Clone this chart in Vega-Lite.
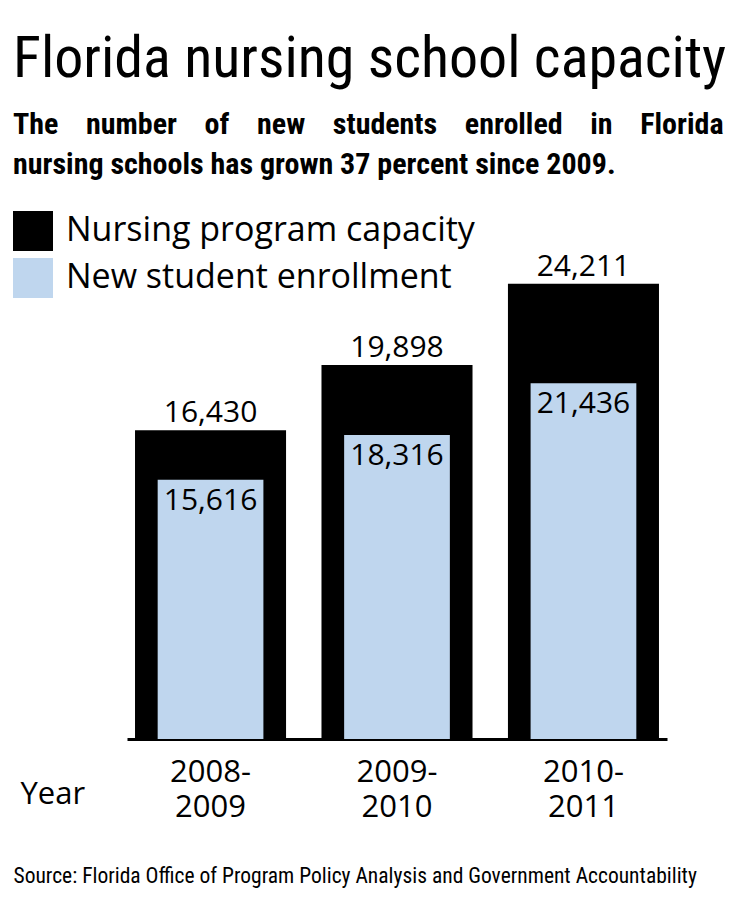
{
  "$schema": "https://vega.github.io/schema/vega-lite/v6.json",
  "autosize": "none",
  "width": 540,
  "height": 479,
  "padding": {"left": 127, "top": 260, "right": 89, "bottom": 161},
  "background": "white",
  "title": {
    "text": "Florida nursing school capacity",
    "subtitle": ["The\u00a0\u00a0\u00a0\u00a0number\u00a0\u00a0\u00a0\u00a0of\u00a0\u00a0\u00a0\u00a0new\u00a0\u00a0\u00a0\u00a0students\u00a0\u00a0\u00a0\u00a0enrolled\u00a0\u00a0\u00a0\u00a0in\u00a0\u00a0\u00a0\u00a0Florida", "nursing schools has grown 37 percent since 2009."],
    "anchor": "start",
    "frame": "group",
    "orient": "top",
    "dx": -114,
    "offset": 31,
    "font": "Roboto Condensed, Roboto",
    "fontSize": 58,
    "fontWeight": "normal",
    "color": "black",
    "subtitleFont": "Roboto Condensed, Roboto",
    "subtitleFontSize": 30,
    "subtitleFontWeight": "bold",
    "subtitleColor": "black",
    "subtitleLineHeight": 40,
    "subtitlePadding": 21
  },
  "data": {
    "values": [
      {"year": "2008-2009", "capacity": 16430, "enrollment": 15616},
      {"year": "2009-2010", "capacity": 19898, "enrollment": 18316},
      {"year": "2010-2011", "capacity": 24211, "enrollment": 21436}
    ]
  },
  "encoding": {
    "x": {
      "field": "year",
      "type": "nominal",
      "sort": null,
      "scale": {"paddingInner": 0.19, "paddingOuter": 0.043},
      "axis": {
        "title": "Year",
        "titleFont": "Open Sans",
        "titleFontSize": 31,
        "titleFontWeight": "normal",
        "titleColor": "black",
        "titleX": -107,
        "titleY": 64,
        "titleAlign": "left",
        "titleBaseline": "alphabetic",
        "titleAngle": 0,
        "domain": true,
        "domainColor": "black",
        "domainWidth": 3,
        "ticks": false,
        "grid": false,
        "labelAngle": 0,
        "labelFont": "Open Sans",
        "labelFontSize": 31,
        "labelColor": "black",
        "labelPadding": 18,
        "labelLineHeight": 35,
        "labelExpr": "[slice(datum.value, 0, 5), slice(datum.value, 5)]"
      }
    }
  },
  "layer": [
    {
      "layer": [
        {
          "mark": {"type": "bar", "width": {"band": 1}},
          "encoding": {
            "y": {
              "field": "capacity",
              "type": "quantitative",
              "scale": {"domain": [0, 25480], "nice": false},
              "axis": {
                "orient": "left",
                "domain": false,
                "ticks": false,
                "labels": false,
                "grid": false,
                "title": "Source: Florida Office of Program Policy Analysis and Government Accountability",
                "titleAngle": 0,
                "titleX": -114,
                "titleY": 622,
                "titleAlign": "left",
                "titleBaseline": "alphabetic",
                "titleFont": "Roboto Condensed, Roboto",
                "titleFontSize": 21.5,
                "titleFontWeight": "normal",
                "titleColor": "black",
                "titleLimit": 740
              }
            },
            "color": {
              "datum": "Nursing program capacity",
              "scale": {
                "domain": ["Nursing program capacity", "New student enrollment"],
                "range": ["#000000", "#bfd6ee"]
              },
              "legend": {
                "orient": "none",
                "legendX": -114,
                "legendY": -49,
                "title": null,
                "symbolType": "square",
                "symbolSize": 1600,
                "symbolStrokeWidth": 0,
                "symbolOpacity": 1,
                "labelFont": "Open Sans",
                "labelFontSize": 34,
                "labelColor": "black",
                "labelOffset": 13,
                "rowPadding": 7,
                "padding": 0,
                "labelLimit": 600
              }
            }
          }
        },
        {
          "mark": {"type": "text", "baseline": "alphabetic", "dy": -8, "font": "Open Sans", "fontSize": 30, "color": "black"},
          "encoding": {
            "y": {"field": "capacity", "type": "quantitative", "scale": {"domain": [0, 25480], "nice": false}},
            "text": {"field": "capacity", "type": "quantitative", "format": ","}
          }
        }
      ]
    },
    {
      "layer": [
        {
          "mark": {"type": "bar", "width": {"band": 0.7}},
          "encoding": {
            "y": {
              "field": "enrollment",
              "type": "quantitative",
              "scale": {"domain": [0, 28855], "nice": false},
              "axis": null
            },
            "color": {"datum": "New student enrollment"}
          }
        },
        {
          "mark": {"type": "text", "baseline": "alphabetic", "dy": 30, "font": "Open Sans", "fontSize": 30, "color": "black"},
          "encoding": {
            "y": {"field": "enrollment", "type": "quantitative", "scale": {"domain": [0, 28855], "nice": false}, "axis": null},
            "text": {"field": "enrollment", "type": "quantitative", "format": ","}
          }
        }
      ]
    }
  ],
  "resolve": {"scale": {"y": "independent"}},
  "config": {"view": {"stroke": null}}
}
